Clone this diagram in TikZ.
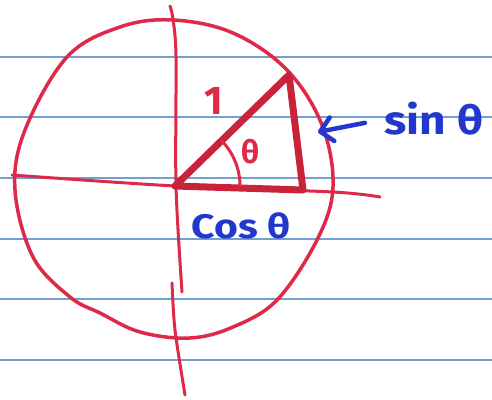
\documentclass[tikz,border=0pt]{standalone}
\usepackage{fontspec}
\setmainfont{Fira Sans}
\usetikzlibrary{arrows.meta}

\definecolor{penred}{RGB}{222,42,72}
\definecolor{trired}{RGB}{200,35,58}
\definecolor{penblue}{RGB}{35,55,205}
\definecolor{ruleblue}{RGB}{115,160,210}

\begin{document}
\begin{tikzpicture}[
    x=1pt, y=1pt,
    >={Straight Barb[length=12pt,width=24pt,round]}, % Open hand-drawn tip
    pen/.style={penred, line width=3.5pt, line cap=round, line join=round},
    tripen/.style={trired, line width=7pt, line cap=round, line join=round},
    inklabel/.style={penblue, font=\fontsize{34}{34}\selectfont\bfseries, inner sep=0pt, xscale=1.2}
]
\useasboundingbox (0,0) rectangle (492,399);
\fill[white] (0,0) rectangle (492,399);

% Ruled paper
\foreach \y in {342,282,221,160,100,39}
  \draw[ruleblue, line width=1.2pt] (0,\y) -- (492,\y);

% Unit circle (hand drawn)
\draw[pen] plot[smooth cycle, tension=0.6] coordinates {
  (173,379) (233,366) (287,329) (322,274) (333,212) (317,159)
  (277,99) (233,72) (190,61) (140,67) (100,86) (70,102)
  (33,142) (15,209) (25,269) (67,342) (120,372)};

% Axes
\draw[pen, line width=3pt] plot[smooth] coordinates {(12,224) (175,213) (333,207) (380,202)};
\draw[pen, line width=3pt] plot[smooth] coordinates {(170,393) (173,380) (176,342) (176,213) (182,107)};
\draw[pen, line width=3pt] plot[smooth] coordinates {(172,116) (175,69) (185,4)};

% Triangle
\coordinate (O) at (175,213);
\coordinate (P) at (289,324);
\coordinate (Q) at (303,209);
\draw[tripen] (O) -- (P) -- (Q) -- cycle;

% Angle mark
\draw[pen, line width=3pt] (O) ++(44:65pt) arc[start angle=44, end angle=0, radius=65pt];

% Labels
\node[penred, font=\fontsize{40}{40}\selectfont\bfseries, inner sep=0pt] (one) at (214,298) {1};
\node[penred, font=\fontsize{32}{32}\selectfont\bfseries, inner sep=0pt] (theta) at (251,247) {θ};
\node[inklabel] (coslabel) at (241,173) {Cos θ};
\node[inklabel, font=\fontsize{40}{40}\selectfont\bfseries, xscale=1.15/1.2] (sinlabel) at (434,280) {sin θ};

% Arrow to the vertical side
\coordinate (sintip) at (318,267);
\draw[->, penblue, line width=4.5pt, line cap=round, shorten <=20pt] (sinlabel.west) -- (sintip);

\end{tikzpicture}
\end{document}
